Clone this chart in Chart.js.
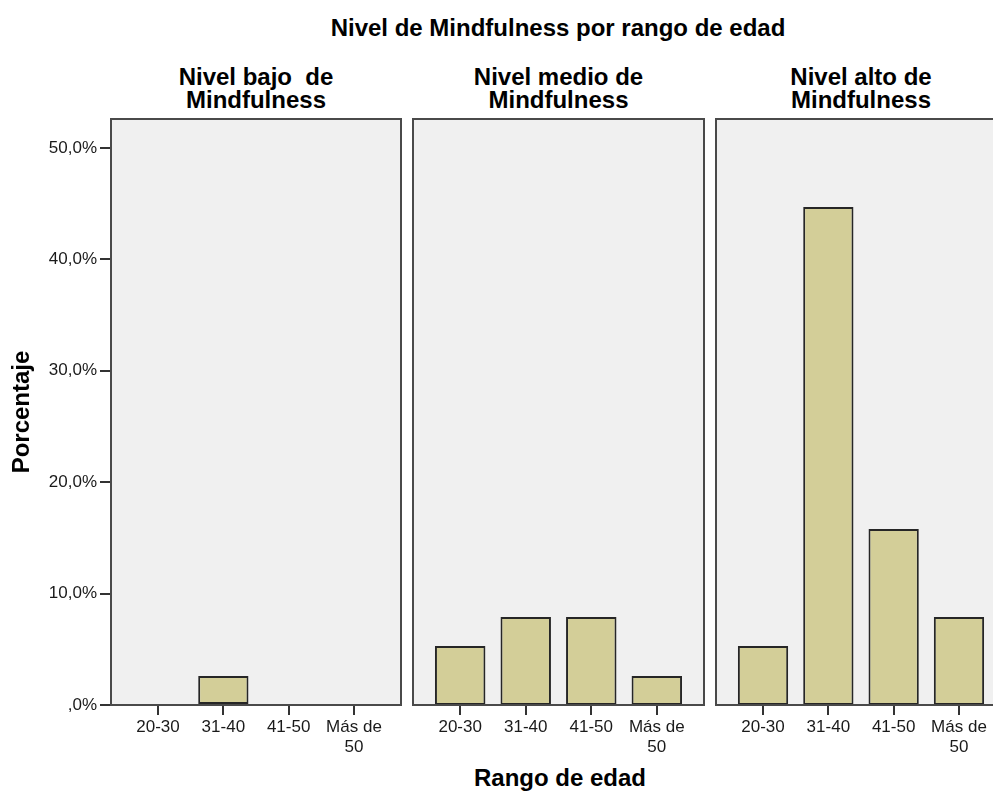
<!DOCTYPE html>
<html>
<head>
<meta charset="utf-8">
<script src="https://cdn.jsdelivr.net/npm/chart.js@4.4.1/dist/chart.umd.min.js"></script>
<style>
    body { margin: 0; background: #fff; width: 993px; height: 796px; overflow: hidden; position: relative; }
    .txt { position: absolute; font-family: "Liberation Sans", Arial, sans-serif; font-weight: bold; color: #000; text-align: center; white-space: pre; }
    canvas { position: absolute; }
</style>
</head>
<body>
<div class="txt" style="left:258px; width:600px; top:13px; font-size:24px; line-height:30px;">Nivel de Mindfulness por rango de edad</div>
<div class="txt" id="t1" style="top:65px; font-size:24px; line-height:23px;"></div>
<div class="txt" id="t2" style="top:65px; font-size:24px; line-height:23px;"></div>
<div class="txt" id="t3" style="top:65px; font-size:24px; line-height:23px;"></div>
<div class="txt" style="left:360px; width:400px; top:766px; font-size:24px; line-height:24px;">Rango de edad</div>

<canvas id="c1" style="left:0px; top:100px;" width="410" height="665"></canvas>
<canvas id="c2" style="left:405px; top:100px;" width="305" height="665"></canvas>
<canvas id="c3" style="left:708px; top:100px;" width="310" height="665"></canvas>

<script>
// data (percent of all respondents)
var ageGroups = ["20-30", "31-40", "41-50", ["Más de", "50"]];
var panelTitles = ["Nivel bajo  de\nMindfulness", "Nivel medio de\nMindfulness", "Nivel alto de\nMindfulness"];
var bajo = [0, 2.6, 0, 0];
var medio = [5.3, 7.9, 7.9, 2.6];
var alto = [5.3, 44.7, 15.8, 7.9];
var yTicks = [0, 10, 20, 30, 40, 50];
var yMax = 52.6;

function pctLabel(v) {
    if (v === 0) return ",0%";
    return v.toFixed(1).replace(".", ",") + "%";
}

// panel background + frame
var framePlugin = {
    id: 'frame',
    beforeDraw: function (chart) {
        var a = chart.chartArea, c = chart.ctx;
        c.save();
        c.fillStyle = '#f0f0f0';
        c.fillRect(a.left, a.top, a.right - a.left, a.bottom - a.top);
        c.restore();
    },
    afterDraw: function (chart) {
        var a = chart.chartArea, c = chart.ctx;
        c.save();
        c.strokeStyle = '#4a4a4a';
        c.lineWidth = 2;
        c.strokeRect(a.left, a.top, a.right - a.left, a.bottom - a.top);
        c.restore();
    }
};

function makePanel(id, values, pad, showY) {
    return new Chart(document.getElementById(id), {
        type: 'bar',
        data: {
            datasets: [{
                data: values.map(function (v, i) { return {x: i, y: v}; }),
                backgroundColor: '#d3ce98',
                borderColor: '#262626',
                borderWidth: function (ctx) { return ctx.raw && ctx.raw.y > 0 ? 2 : 0; },
                borderSkipped: false,
                categoryPercentage: 1,
                barPercentage: 0.77
            }]
        },
        options: {
            responsive: false,
            animation: false,
            layout: {padding: {left: pad[0], right: pad[1], top: 19, bottom: 0}},
            plugins: {legend: {display: false}, tooltip: {enabled: false}, title: {display: false}},
            scales: {
                x: {
                    type: 'linear',
                    min: -0.72,
                    max: 3.72,
                    offset: false,
                    afterBuildTicks: function (axis) {
                        axis.ticks = ageGroups.map(function (g, i) { return {value: i}; });
                    },
                    afterFit: function (axis) { axis.height = 60; },
                    border: {display: false},
                    grid: {offset: false, drawOnChartArea: false, drawTicks: true, tickLength: 10, color: '#333', lineWidth: 2},
                    ticks: {
                        autoSkip: false,
                        maxRotation: 0,
                        padding: 2,
                        color: '#1a1a1a',
                        font: {family: '"Liberation Sans", Arial, sans-serif', size: 17, lineHeight: 1.2},
                        callback: function (v) { return ageGroups[v]; }
                    }
                },
                y: {
                    display: showY,
                    min: 0,
                    max: yMax,
                    afterBuildTicks: function (axis) {
                        axis.ticks = yTicks.map(function (t) { return {value: t}; });
                    },
                    afterFit: function (axis) { axis.width = showY ? 111 : 0; },
                    border: {display: false},
                    grid: {drawOnChartArea: false, drawTicks: true, tickLength: 11, color: '#333', lineWidth: 2},
                    ticks: {
                        padding: 3,
                        color: '#1a1a1a',
                        font: {family: '"Liberation Sans", Arial, sans-serif', size: 17},
                        callback: function (v) { return pctLabel(v); }
                    },
                    title: {
                        display: true,
                        text: 'Porcentaje',
                        color: '#000',
                        padding: {top: 8, bottom: 0},
                        font: {family: '"Liberation Sans", Arial, sans-serif', size: 24, weight: 'bold', lineHeight: 1.2}
                    }
                }
            }
        },
        plugins: [framePlugin]
    });
}

var charts = [
    makePanel('c1', bajo, [0, 9], true),
    makePanel('c2', medio, [8, 6], false),
    makePanel('c3', alto, [8, 12], false)
];

// panel titles centred over each panel's plot area
charts.forEach(function (ch, i) {
    var el = document.getElementById('t' + (i + 1));
    var left = parseFloat(ch.canvas.style.left);
    var mid = left + (ch.chartArea.left + ch.chartArea.right) / 2;
    el.textContent = panelTitles[i];
    el.style.left = (mid - 150) + 'px';
    el.style.width = '300px';
});
</script>
</body>
</html>
